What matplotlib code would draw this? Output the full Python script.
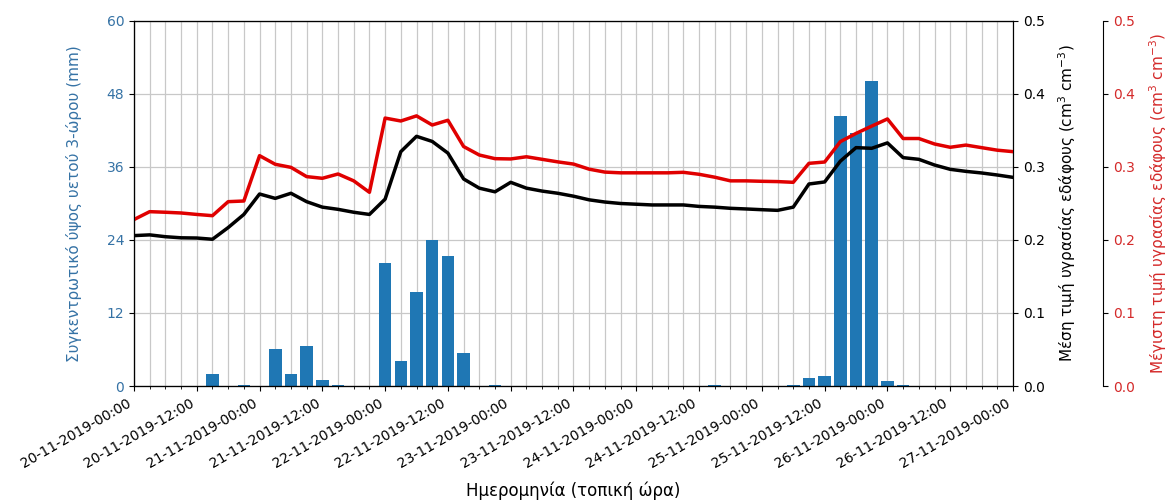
import numpy as np
import pandas as pd
import matplotlib
matplotlib.use("Agg")
import matplotlib.pyplot as plt
import matplotlib.dates as mdates

# 3-hourly time stamps, 20-11-2019 00:00 .. 27-11-2019 00:00
times = pd.date_range("2019-11-20 00:00", "2019-11-27 00:00", freq="3h")

# 3-hour accumulated precipitation (mm), keyed by index of time stamp
rain = np.zeros(len(times))
rain_idx = [5, 7, 9, 10, 11, 12, 13, 16, 17, 18, 19, 20, 21, 23,
            37, 42, 43, 44, 45, 46, 47, 48, 49]
rain_val = [2.0, 0.1, 6.1, 2.0, 6.5, 1.0, 0.1, 20.2, 4.1, 15.5, 24.0, 21.4, 5.4, 0.1,
            0.1, 0.1, 1.3, 1.6, 44.4, 41.6, 50.1, 0.8, 0.1]
rain[rain_idx] = rain_val

# mean soil moisture (cm3 cm-3)
sm_mean = [0.206, 0.207, 0.2045, 0.203, 0.2027, 0.201, 0.217, 0.235, 0.263, 0.257,
           0.264, 0.2525, 0.245, 0.242, 0.238, 0.235, 0.256, 0.321, 0.342, 0.335,
           0.319, 0.2836, 0.271, 0.266, 0.279, 0.271, 0.267, 0.264, 0.260, 0.255,
           0.252, 0.250, 0.249, 0.248, 0.248, 0.248, 0.246, 0.245, 0.2434, 0.2425,
           0.2415, 0.2406, 0.245, 0.2767, 0.2795, 0.308, 0.3265, 0.3256, 0.333, 0.3128,
           0.3105, 0.3027, 0.2968, 0.294, 0.2918, 0.289, 0.2858]

# maximum soil moisture (cm3 cm-3)
sm_max = [0.228, 0.2388, 0.238, 0.237, 0.235, 0.2333, 0.2525, 0.2534, 0.3155, 0.3037,
          0.2995, 0.2868, 0.2845, 0.2904, 0.281, 0.2653, 0.367, 0.363, 0.370, 0.3575,
          0.364, 0.328, 0.3164, 0.3114, 0.311, 0.314, 0.3105, 0.307, 0.304, 0.297,
          0.293, 0.292, 0.292, 0.292, 0.292, 0.2927, 0.290, 0.286, 0.281, 0.281,
          0.2804, 0.280, 0.279, 0.305, 0.3068, 0.3347, 0.346, 0.356, 0.3658, 0.339,
          0.339, 0.3315, 0.327, 0.330, 0.3265, 0.323, 0.321]

blue = "#1f77b4"
blue_txt = "#3572a5"
red = "#e00000"
red_txt = "#d42a2a"

fig = plt.figure(figsize=(11.68, 5.03), dpi=100)
ax = fig.add_axes([0.1147, 0.2326, 0.7526, 0.7257])

ax.bar(times, rain, width=0.8 * 3 / 24, color=blue, zorder=2)
ax.set_ylim(0, 60)
ax.set_yticks(np.arange(0, 61, 12))
ax.tick_params(axis="y", labelcolor=blue_txt, labelsize=10)
ax.set_ylabel("Συγκεντρωτικό ύψος υετού 3-ώρου (mm)", color=blue_txt, fontsize=11,
              labelpad=18)
ax.set_xlim(times[0], times[-1])
ax.xaxis.set_major_locator(mdates.HourLocator(byhour=[0, 12]))
ax.xaxis.set_minor_locator(mdates.HourLocator(interval=3))
ax.xaxis.set_major_formatter(mdates.DateFormatter("%d-%m-%Y-%H:%M"))
plt.setp(ax.get_xticklabels(), rotation=30, ha="right", fontsize=10)
ax.set_xlabel("Ημερομηνία (τοπική ώρα)", fontsize=12, labelpad=8)
ax.grid(True, which="both", axis="x", color="#c8c8c8", linewidth=0.9)
ax.grid(True, which="major", axis="y", color="#c8c8c8", linewidth=0.9)
ax.set_axisbelow(True)

ax2 = ax.twinx()
ax2.plot(times, sm_mean, color="black", linewidth=2.5)
ax2.set_ylim(0, 0.5)
ax2.set_yticks(np.arange(0, 0.51, 0.1))
ax2.tick_params(axis="y", labelsize=10)
ax2.set_ylabel("Μέση τιμή υγρασίας εδάφους (cm$^3$ cm$^{-3}$)", fontsize=11, labelpad=8)

ax3 = ax.twinx()
ax3.spines["right"].set_position(("axes", 1.1024))
ax3.plot(times, sm_max, color=red, linewidth=2.5)
ax3.set_ylim(0, 0.5)
ax3.set_yticks(np.arange(0, 0.51, 0.1))
ax3.tick_params(axis="y", labelcolor=red_txt, labelsize=10)
ax3.set_ylabel("Μέγιστη τιμή υγρασίας εδάφους (cm$^3$ cm$^{-3}$)", color=red_txt,
               fontsize=11, labelpad=9)

fig.savefig("out.png", dpi=100)
